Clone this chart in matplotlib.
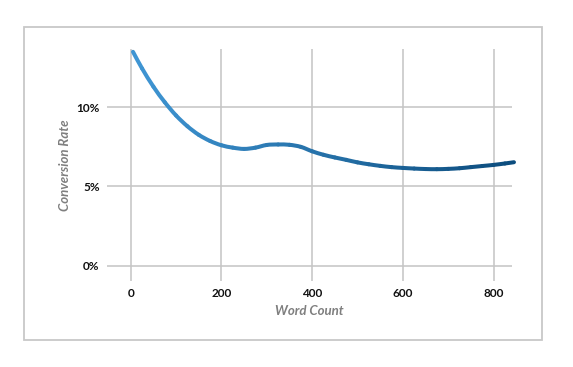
#!/usr/bin/env python3
# -*- coding: utf-8 -*-
import numpy as np
import matplotlib
matplotlib.use('Agg')
import matplotlib.pyplot as plt
from matplotlib.collections import PatchCollection
from matplotlib.colors import LinearSegmentedColormap
from matplotlib.patches import Rectangle, PathPatch
from matplotlib.path import Path

# word count vs conversion rate (%)
word_count = [5, 25, 50, 75, 100, 125, 150, 175, 200, 225, 250, 275, 300,
              325, 350, 375, 400, 425, 450, 475, 500, 525, 550, 575, 600,
              625, 650, 675, 700, 725, 750, 775, 800, 825, 845]
conv_rate = [13.5, 12.45, 11.3, 10.32, 9.48, 8.8, 8.26, 7.87, 7.6, 7.45,
             7.37, 7.45, 7.62, 7.65, 7.63, 7.5, 7.22, 7.0, 6.83, 6.68,
             6.52, 6.40, 6.30, 6.22, 6.17, 6.13, 6.10, 6.09, 6.11, 6.15,
             6.22, 6.29, 6.36, 6.45, 6.53]
x_ticks = [0, 200, 400, 600, 800]
y_ticks = [0, 5, 10]
y_tick_labels = ['0%', '5%', '10%']

plt.rcParams['font.family'] = ['Lato', 'DejaVu Sans']

fig = plt.figure(figsize=(5.73, 3.67), dpi=100)
fig.patch.set_facecolor('white')
# outer frame
fig.patches.append(Rectangle((24 / 573, 1 - 340 / 367), 518 / 573, 313 / 367,
                             transform=fig.transFigure, fill=False,
                             edgecolor='#c8c8c8', lw=1.3))

ax = fig.add_axes([0.1862, 0.2343, 0.7068, 0.6314])
ax.set_xlim(-53, 840)
ax.set_ylim(-0.97, 13.66)

for s in ax.spines.values():
    s.set_visible(False)
ax.set_xticks(x_ticks)
ax.set_yticks(y_ticks)
ax.set_yticklabels(y_tick_labels)
ax.tick_params(length=0, labelsize=8.5, colors='#111111')
ax.tick_params(axis='x', pad=5)
ax.tick_params(axis='y', pad=5)
for lbl in ax.get_xticklabels() + ax.get_yticklabels():
    lbl.set_fontweight('bold')
ax.grid(True, color='#c4c4c4', lw=1.1)
ax.set_axisbelow(True)

# smoothed line (bezier between the read points), coloured left to right
pts = np.array([word_count, conv_rate], dtype=float).T
n = len(pts)
tang = np.zeros_like(pts)
tang[1:-1] = (pts[2:] - pts[:-2]) / 2
tang[0] = pts[1] - pts[0]
tang[-1] = pts[-1] - pts[-2]
cmap = LinearSegmentedColormap.from_list('blues', ['#3f95d3', '#0b4b7c'])
patches, colors = [], []
for i in range(n - 1):
    p0, p3 = pts[i], pts[i + 1]
    p1 = p0 + tang[i] / 3
    p2 = p3 - tang[i + 1] / 3
    path = Path([p0, p1, p2, p3],
                [Path.MOVETO, Path.CURVE4, Path.CURVE4, Path.CURVE4])
    patches.append(PathPatch(path))
    colors.append(cmap(pts[i, 0] / 845))
pc = PatchCollection(patches, facecolors='none', edgecolors=colors,
                     linewidths=2.9, capstyle='round', joinstyle='round',
                     clip_on=False)
ax.add_collection(pc)

ax.set_xlabel('Word Count', fontsize=9.5, style='italic', fontweight='bold',
              color='#7f7f7f', labelpad=4)
ax.set_ylabel('Conversion Rate', fontsize=9.5, style='italic',
              fontweight='bold', color='#7f7f7f', labelpad=4)

fig.savefig('out.png', dpi=100, facecolor='white')
